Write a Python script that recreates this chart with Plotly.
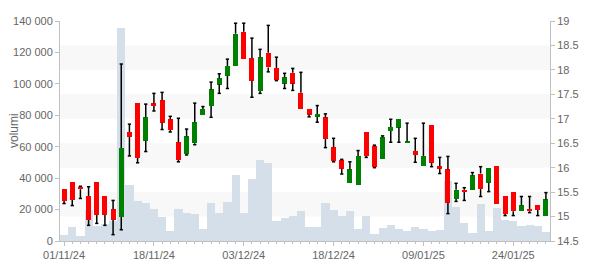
import plotly.graph_objects as go

dates = ["01/11/24","04/11/24","05/11/24","06/11/24","07/11/24","08/11/24","11/11/24","12/11/24","13/11/24","14/11/24",
         "15/11/24","18/11/24","19/11/24","20/11/24","21/11/24","22/11/24","25/11/24","26/11/24","27/11/24","28/11/24",
         "29/11/24","02/12/24","03/12/24","04/12/24","05/12/24","06/12/24","09/12/24","10/12/24","11/12/24","12/12/24",
         "13/12/24","16/12/24","17/12/24","18/12/24","19/12/24","20/12/24","23/12/24","27/12/24","30/12/24","02/01/25",
         "03/01/25","06/01/25","07/01/25","08/01/25","09/01/25","10/01/25","13/01/25","14/01/25","15/01/25","16/01/25",
         "17/01/25","20/01/25","21/01/25","22/01/25","23/01/25","24/01/25","27/01/25","28/01/25","29/01/25","30/01/25"]

open_ = [15.57,15.70,15.61,15.42,15.70,15.42,15.15,14.99,16.73,17.32,
         16.55,17.32,17.38,16.99,16.52,16.28,16.50,17.08,17.26,17.70,
         17.88,18.07,18.78,18.24,17.57,18.35,18.04,17.72,17.94,17.53,
         17.20,17.04,17.03,16.42,16.15,15.69,15.65,16.73,16.44,16.17,
         16.75,16.82,16.51,16.34,16.04,16.87,16.03,15.97,15.36,15.55,
         15.545,15.88,15.69,16.03,15.42,15.51,15.11,15.155,15.23,15.02]
high = [15.57,15.70,15.62,15.61,15.70,15.42,15.33,18.12,16.89,17.32,
        17.30,17.52,17.54,17.05,17.01,16.79,17.32,17.25,17.75,17.92,
        18.22,18.955,18.955,18.65,18.42,18.91,18.26,17.93,18.03,17.95,
        17.20,17.27,17.10,16.60,16.17,16.12,16.35,16.73,16.46,16.65,
        16.99,16.99,16.91,16.60,16.91,16.87,16.21,16.23,15.68,15.59,
        15.90,16.02,15.99,16.03,15.42,15.51,15.41,15.41,15.23,15.49]
low = [15.266,15.225,15.37,14.82,14.86,14.82,14.63,14.73,16.24,16.10,
       16.33,17.16,16.78,16.73,16.12,16.26,16.47,17.08,17.03,17.52,
       17.62,18.07,18.23,17.44,17.52,17.96,17.78,17.62,17.58,17.20,
       17.04,16.93,16.41,16.12,15.87,15.69,15.65,16.21,16.00,16.17,
       16.52,16.52,16.51,16.11,16.04,16.02,15.88,15.06,15.31,15.33,
       15.545,15.41,15.51,15.26,15.02,15.02,15.11,15.08,15.02,15.02]
close = [15.32,15.34,15.56,14.93,15.03,15.03,14.93,16.40,16.63,16.20,
         17.03,17.26,16.92,16.77,16.16,16.64,16.93,17.20,17.60,17.83,
         18.08,18.74,18.23,17.78,18.26,18.05,17.79,17.85,17.72,17.20,
         17.08,17.10,16.59,16.14,15.98,15.97,16.24,16.24,16.01,16.62,
         16.83,16.99,16.54,16.26,16.24,16.10,15.98,15.28,15.55,15.50,
         15.84,15.565,15.99,15.26,15.05,15.11,15.23,15.11,15.135,15.35]
volume = [3630,8730,2990,19560,9370,11070,12740,135700,35490,25300,
          24020,20200,15100,6180,20200,17650,17000,7450,24020,17650,
          24660,41860,17650,39300,51420,49500,12550,14460,15730,18920,
          8730,8730,24020,19560,15730,18920,7450,15730,4250,8090,
          10000,7450,6180,8730,7450,6180,6820,38040,21470,11280,
          4890,23380,6180,20840,13190,12550,9370,10000,9700,5540]

label_step = 11

idx = list(range(len(dates)))
up = [i for i in idx if close[i] >= open_[i]]
down = [i for i in idx if close[i] < open_[i]]

fig = go.Figure()

fig.add_trace(go.Bar(x=idx, y=volume, yaxis="y", marker=dict(color="#d5dfe9", line=dict(width=0)),
                     width=1.0, hoverinfo="skip", showlegend=False))

# wicks with caps
wx, wy = [], []
cap = 0.2
for i in idx:
    top = max(open_[i], close[i])
    bot = min(open_[i], close[i])
    if high[i] > top + 1e-9:
        wx += [i, i, None, i - cap, i + cap, None]
        wy += [top, high[i], None, high[i], high[i], None]
    if low[i] < bot - 1e-9:
        wx += [i, i, None, i - cap, i + cap, None]
        wy += [bot, low[i], None, low[i], low[i], None]
fig.add_trace(go.Scatter(x=wx, y=wy, mode="lines", yaxis="y2", line=dict(color="black", width=1.5),
                         hoverinfo="skip", showlegend=False, connectgaps=False))

for sel, col in ((up, "#008000"), (down, "#ff0000")):
    fig.add_trace(go.Bar(x=sel,
                         y=[abs(close[i] - open_[i]) for i in sel],
                         base=[min(open_[i], close[i]) for i in sel],
                         yaxis="y2", width=0.6, marker=dict(color=col, line=dict(width=0)),
                         showlegend=False))

shapes = []
b = 15.0
while b < 19:
    shapes.append(dict(type="rect", xref="paper", x0=0, x1=1, yref="y2", y0=b, y1=b + 0.5,
                       fillcolor="#f8f8f8", line=dict(width=0), layer="below"))
    b += 1.0

fig.update_layout(
    width=600, height=270,
    margin=dict(l=60, r=50, t=21, b=29),
    paper_bgcolor="white", plot_bgcolor="white",
    barmode="overlay", bargap=0,
    separators=". ",
    font=dict(family="Liberation Sans, Arial, sans-serif", size=11, color="#666666"),
    shapes=shapes,
    annotations=[dict(text="volumi", textangle=-90, xref="paper", yref="paper",
                      x=-46 / 490, y=0.5, xanchor="center", yanchor="middle", showarrow=False,
                      font=dict(size=12, color="#666666"))],
    xaxis=dict(range=[-0.5, len(dates) - 0.5], showgrid=False, zeroline=False, automargin=False,
               tickvals=idx[::label_step], ticktext=[dates[i] for i in idx[::label_step]],
               ticks="outside", ticklen=4, tickcolor="#c0c0c0",
               showline=True, linecolor="#c0c0c0", linewidth=1,
               minor=dict(tick0=0, dtick=1, ticks="outside", ticklen=2, tickcolor="#c0c0c0")),
    yaxis=dict(range=[0, 140000], dtick=20000, tickformat=",d", showgrid=False, zeroline=False,
               automargin=False, ticks="outside", ticklen=4, tickcolor="#c0c0c0",
               showline=True, linecolor="#c0c0c0"),
    yaxis2=dict(range=[14.5, 19], dtick=0.5, overlaying="y", side="right", showgrid=False, zeroline=False,
                automargin=False, ticks="outside", ticklen=4, tickcolor="#c0c0c0",
                showline=True, linecolor="#c0c0c0"),
)

fig.write_html("out.html")
